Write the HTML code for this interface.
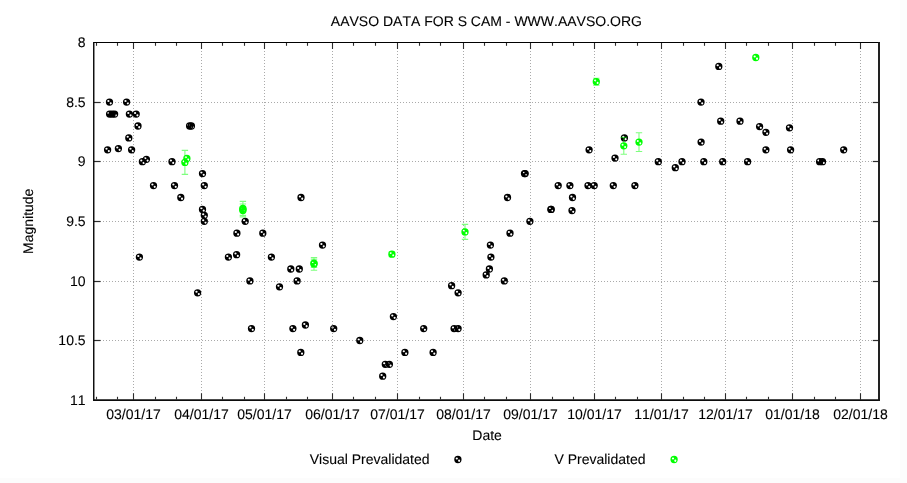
<!DOCTYPE html>
<html lang="en"><head><meta charset="utf-8"><title>AAVSO DATA FOR S CAM</title>
<style>html,body{margin:0;padding:0;background:#fcfcfc;overflow:hidden}svg{display:block}text{font-family:"Liberation Sans",Arial,Helvetica,sans-serif;font-size:14px;fill:#000;stroke:#000;stroke-width:.1px;font-kerning:none;text-rendering:geometricPrecision}</style></head><body>
<svg width="907" height="483" viewBox="0 0 907 483">
<defs>
<path id="b" fill="#000" fill-rule="evenodd" d="M-3.65 0.00a3.65 3.65 0 1 0 7.30 0a3.65 3.65 0 1 0 -7.30 0zM-2.22 -1.10a1.12 0.98 0 1 0 2.24 0a1.12 0.98 0 1 0 -2.24 0zM0.17 1.25a1.05 1.15 0 1 0 2.10 0a1.05 1.15 0 1 0 -2.10 0z"/>
<path id="g" fill="#00ff00" fill-rule="evenodd" d="M-3.65 0.00a3.65 3.65 0 1 0 7.30 0a3.65 3.65 0 1 0 -7.30 0zM-2.22 -1.10a1.12 0.98 0 1 0 2.24 0a1.12 0.98 0 1 0 -2.24 0zM0.17 1.25a1.05 1.15 0 1 0 2.10 0a1.05 1.15 0 1 0 -2.10 0z"/>
</defs>
<rect x="0" y="0" width="907" height="483" fill="#fcfcfc"/>
<rect x="0" y="0" width="900" height="478" fill="#fff"/>
<path stroke="#aaaaaa" stroke-width="1" fill="none" d="M133 42.5h1m-1 3h1m-1 3h1m-1 3h1m-1 3h1m-1 3h1m-1 3h1m-1 3h1m-1 3h1m-1 3h1m-1 3h1m-1 3h1m-1 3h1m-1 3h1m-1 3h1m-1 3h1m-1 3h1m-1 3h1m-1 3h1m-1 3h1m-1 3h1m-1 3h1m-1 3h1m-1 3h1m-1 3h1m-1 3h1m-1 3h1m-1 3h1m-1 3h1m-1 3h1m-1 3h1m-1 3h1m-1 3h1m-1 3h1m-1 3h1m-1 3h1m-1 3h1m-1 3h1m-1 3h1m-1 3h1m-1 3h1m-1 3h1m-1 3h1m-1 3h1m-1 3h1m-1 3h1m-1 3h1m-1 3h1m-1 3h1m-1 3h1m-1 3h1m-1 3h1m-1 3h1m-1 3h1m-1 3h1m-1 3h1m-1 3h1m-1 3h1m-1 3h1m-1 3h1m-1 3h1m-1 3h1m-1 3h1m-1 3h1m-1 3h1m-1 3h1m-1 3h1m-1 3h1m-1 3h1m-1 3h1m-1 3h1m-1 3h1m-1 3h1m-1 3h1m-1 3h1m-1 3h1m-1 3h1m-1 3h1m-1 3h1m-1 3h1m-1 3h1m-1 3h1m-1 3h1m-1 3h1m-1 3h1m-1 3h1m-1 3h1m-1 3h1m-1 3h1m-1 3h1m-1 3h1m-1 3h1m-1 3h1m-1 3h1m-1 3h1m-1 3h1m-1 3h1m-1 3h1m-1 3h1m-1 3h1m-1 3h1m-1 3h1m-1 3h1m-1 3h1m-1 3h1m-1 3h1m-1 3h1m-1 3h1m-1 3h1m-1 3h1m-1 3h1m-1 3h1m-1 3h1m-1 3h1m-1 3h1m-1 3h1m-1 3h1m-1 3h1m-1 3h1m-1 3h1M201 42.5h1m-1 3h1m-1 3h1m-1 3h1m-1 3h1m-1 3h1m-1 3h1m-1 3h1m-1 3h1m-1 3h1m-1 3h1m-1 3h1m-1 3h1m-1 3h1m-1 3h1m-1 3h1m-1 3h1m-1 3h1m-1 3h1m-1 3h1m-1 3h1m-1 3h1m-1 3h1m-1 3h1m-1 3h1m-1 3h1m-1 3h1m-1 3h1m-1 3h1m-1 3h1m-1 3h1m-1 3h1m-1 3h1m-1 3h1m-1 3h1m-1 3h1m-1 3h1m-1 3h1m-1 3h1m-1 3h1m-1 3h1m-1 3h1m-1 3h1m-1 3h1m-1 3h1m-1 3h1m-1 3h1m-1 3h1m-1 3h1m-1 3h1m-1 3h1m-1 3h1m-1 3h1m-1 3h1m-1 3h1m-1 3h1m-1 3h1m-1 3h1m-1 3h1m-1 3h1m-1 3h1m-1 3h1m-1 3h1m-1 3h1m-1 3h1m-1 3h1m-1 3h1m-1 3h1m-1 3h1m-1 3h1m-1 3h1m-1 3h1m-1 3h1m-1 3h1m-1 3h1m-1 3h1m-1 3h1m-1 3h1m-1 3h1m-1 3h1m-1 3h1m-1 3h1m-1 3h1m-1 3h1m-1 3h1m-1 3h1m-1 3h1m-1 3h1m-1 3h1m-1 3h1m-1 3h1m-1 3h1m-1 3h1m-1 3h1m-1 3h1m-1 3h1m-1 3h1m-1 3h1m-1 3h1m-1 3h1m-1 3h1m-1 3h1m-1 3h1m-1 3h1m-1 3h1m-1 3h1m-1 3h1m-1 3h1m-1 3h1m-1 3h1m-1 3h1m-1 3h1m-1 3h1m-1 3h1m-1 3h1m-1 3h1m-1 3h1m-1 3h1m-1 3h1m-1 3h1M264 42.5h1m-1 3h1m-1 3h1m-1 3h1m-1 3h1m-1 3h1m-1 3h1m-1 3h1m-1 3h1m-1 3h1m-1 3h1m-1 3h1m-1 3h1m-1 3h1m-1 3h1m-1 3h1m-1 3h1m-1 3h1m-1 3h1m-1 3h1m-1 3h1m-1 3h1m-1 3h1m-1 3h1m-1 3h1m-1 3h1m-1 3h1m-1 3h1m-1 3h1m-1 3h1m-1 3h1m-1 3h1m-1 3h1m-1 3h1m-1 3h1m-1 3h1m-1 3h1m-1 3h1m-1 3h1m-1 3h1m-1 3h1m-1 3h1m-1 3h1m-1 3h1m-1 3h1m-1 3h1m-1 3h1m-1 3h1m-1 3h1m-1 3h1m-1 3h1m-1 3h1m-1 3h1m-1 3h1m-1 3h1m-1 3h1m-1 3h1m-1 3h1m-1 3h1m-1 3h1m-1 3h1m-1 3h1m-1 3h1m-1 3h1m-1 3h1m-1 3h1m-1 3h1m-1 3h1m-1 3h1m-1 3h1m-1 3h1m-1 3h1m-1 3h1m-1 3h1m-1 3h1m-1 3h1m-1 3h1m-1 3h1m-1 3h1m-1 3h1m-1 3h1m-1 3h1m-1 3h1m-1 3h1m-1 3h1m-1 3h1m-1 3h1m-1 3h1m-1 3h1m-1 3h1m-1 3h1m-1 3h1m-1 3h1m-1 3h1m-1 3h1m-1 3h1m-1 3h1m-1 3h1m-1 3h1m-1 3h1m-1 3h1m-1 3h1m-1 3h1m-1 3h1m-1 3h1m-1 3h1m-1 3h1m-1 3h1m-1 3h1m-1 3h1m-1 3h1m-1 3h1m-1 3h1m-1 3h1m-1 3h1m-1 3h1m-1 3h1m-1 3h1m-1 3h1m-1 3h1M332 42.5h1m-1 3h1m-1 3h1m-1 3h1m-1 3h1m-1 3h1m-1 3h1m-1 3h1m-1 3h1m-1 3h1m-1 3h1m-1 3h1m-1 3h1m-1 3h1m-1 3h1m-1 3h1m-1 3h1m-1 3h1m-1 3h1m-1 3h1m-1 3h1m-1 3h1m-1 3h1m-1 3h1m-1 3h1m-1 3h1m-1 3h1m-1 3h1m-1 3h1m-1 3h1m-1 3h1m-1 3h1m-1 3h1m-1 3h1m-1 3h1m-1 3h1m-1 3h1m-1 3h1m-1 3h1m-1 3h1m-1 3h1m-1 3h1m-1 3h1m-1 3h1m-1 3h1m-1 3h1m-1 3h1m-1 3h1m-1 3h1m-1 3h1m-1 3h1m-1 3h1m-1 3h1m-1 3h1m-1 3h1m-1 3h1m-1 3h1m-1 3h1m-1 3h1m-1 3h1m-1 3h1m-1 3h1m-1 3h1m-1 3h1m-1 3h1m-1 3h1m-1 3h1m-1 3h1m-1 3h1m-1 3h1m-1 3h1m-1 3h1m-1 3h1m-1 3h1m-1 3h1m-1 3h1m-1 3h1m-1 3h1m-1 3h1m-1 3h1m-1 3h1m-1 3h1m-1 3h1m-1 3h1m-1 3h1m-1 3h1m-1 3h1m-1 3h1m-1 3h1m-1 3h1m-1 3h1m-1 3h1m-1 3h1m-1 3h1m-1 3h1m-1 3h1m-1 3h1m-1 3h1m-1 3h1m-1 3h1m-1 3h1m-1 3h1m-1 3h1m-1 3h1m-1 3h1m-1 3h1m-1 3h1m-1 3h1m-1 3h1m-1 3h1m-1 3h1m-1 3h1m-1 3h1m-1 3h1m-1 3h1m-1 3h1m-1 3h1m-1 3h1m-1 3h1m-1 3h1M397 42.5h1m-1 3h1m-1 3h1m-1 3h1m-1 3h1m-1 3h1m-1 3h1m-1 3h1m-1 3h1m-1 3h1m-1 3h1m-1 3h1m-1 3h1m-1 3h1m-1 3h1m-1 3h1m-1 3h1m-1 3h1m-1 3h1m-1 3h1m-1 3h1m-1 3h1m-1 3h1m-1 3h1m-1 3h1m-1 3h1m-1 3h1m-1 3h1m-1 3h1m-1 3h1m-1 3h1m-1 3h1m-1 3h1m-1 3h1m-1 3h1m-1 3h1m-1 3h1m-1 3h1m-1 3h1m-1 3h1m-1 3h1m-1 3h1m-1 3h1m-1 3h1m-1 3h1m-1 3h1m-1 3h1m-1 3h1m-1 3h1m-1 3h1m-1 3h1m-1 3h1m-1 3h1m-1 3h1m-1 3h1m-1 3h1m-1 3h1m-1 3h1m-1 3h1m-1 3h1m-1 3h1m-1 3h1m-1 3h1m-1 3h1m-1 3h1m-1 3h1m-1 3h1m-1 3h1m-1 3h1m-1 3h1m-1 3h1m-1 3h1m-1 3h1m-1 3h1m-1 3h1m-1 3h1m-1 3h1m-1 3h1m-1 3h1m-1 3h1m-1 3h1m-1 3h1m-1 3h1m-1 3h1m-1 3h1m-1 3h1m-1 3h1m-1 3h1m-1 3h1m-1 3h1m-1 3h1m-1 3h1m-1 3h1m-1 3h1m-1 3h1m-1 3h1m-1 3h1m-1 3h1m-1 3h1m-1 3h1m-1 3h1m-1 3h1m-1 3h1m-1 3h1m-1 3h1m-1 3h1m-1 3h1m-1 3h1m-1 3h1m-1 3h1m-1 3h1m-1 3h1m-1 3h1m-1 3h1m-1 3h1m-1 3h1m-1 3h1m-1 3h1m-1 3h1m-1 3h1M463 42.5h1m-1 3h1m-1 3h1m-1 3h1m-1 3h1m-1 3h1m-1 3h1m-1 3h1m-1 3h1m-1 3h1m-1 3h1m-1 3h1m-1 3h1m-1 3h1m-1 3h1m-1 3h1m-1 3h1m-1 3h1m-1 3h1m-1 3h1m-1 3h1m-1 3h1m-1 3h1m-1 3h1m-1 3h1m-1 3h1m-1 3h1m-1 3h1m-1 3h1m-1 3h1m-1 3h1m-1 3h1m-1 3h1m-1 3h1m-1 3h1m-1 3h1m-1 3h1m-1 3h1m-1 3h1m-1 3h1m-1 3h1m-1 3h1m-1 3h1m-1 3h1m-1 3h1m-1 3h1m-1 3h1m-1 3h1m-1 3h1m-1 3h1m-1 3h1m-1 3h1m-1 3h1m-1 3h1m-1 3h1m-1 3h1m-1 3h1m-1 3h1m-1 3h1m-1 3h1m-1 3h1m-1 3h1m-1 3h1m-1 3h1m-1 3h1m-1 3h1m-1 3h1m-1 3h1m-1 3h1m-1 3h1m-1 3h1m-1 3h1m-1 3h1m-1 3h1m-1 3h1m-1 3h1m-1 3h1m-1 3h1m-1 3h1m-1 3h1m-1 3h1m-1 3h1m-1 3h1m-1 3h1m-1 3h1m-1 3h1m-1 3h1m-1 3h1m-1 3h1m-1 3h1m-1 3h1m-1 3h1m-1 3h1m-1 3h1m-1 3h1m-1 3h1m-1 3h1m-1 3h1m-1 3h1m-1 3h1m-1 3h1m-1 3h1m-1 3h1m-1 3h1m-1 3h1m-1 3h1m-1 3h1m-1 3h1m-1 3h1m-1 3h1m-1 3h1m-1 3h1m-1 3h1m-1 3h1m-1 3h1m-1 3h1m-1 3h1m-1 3h1m-1 3h1m-1 3h1M530 42.5h1m-1 3h1m-1 3h1m-1 3h1m-1 3h1m-1 3h1m-1 3h1m-1 3h1m-1 3h1m-1 3h1m-1 3h1m-1 3h1m-1 3h1m-1 3h1m-1 3h1m-1 3h1m-1 3h1m-1 3h1m-1 3h1m-1 3h1m-1 3h1m-1 3h1m-1 3h1m-1 3h1m-1 3h1m-1 3h1m-1 3h1m-1 3h1m-1 3h1m-1 3h1m-1 3h1m-1 3h1m-1 3h1m-1 3h1m-1 3h1m-1 3h1m-1 3h1m-1 3h1m-1 3h1m-1 3h1m-1 3h1m-1 3h1m-1 3h1m-1 3h1m-1 3h1m-1 3h1m-1 3h1m-1 3h1m-1 3h1m-1 3h1m-1 3h1m-1 3h1m-1 3h1m-1 3h1m-1 3h1m-1 3h1m-1 3h1m-1 3h1m-1 3h1m-1 3h1m-1 3h1m-1 3h1m-1 3h1m-1 3h1m-1 3h1m-1 3h1m-1 3h1m-1 3h1m-1 3h1m-1 3h1m-1 3h1m-1 3h1m-1 3h1m-1 3h1m-1 3h1m-1 3h1m-1 3h1m-1 3h1m-1 3h1m-1 3h1m-1 3h1m-1 3h1m-1 3h1m-1 3h1m-1 3h1m-1 3h1m-1 3h1m-1 3h1m-1 3h1m-1 3h1m-1 3h1m-1 3h1m-1 3h1m-1 3h1m-1 3h1m-1 3h1m-1 3h1m-1 3h1m-1 3h1m-1 3h1m-1 3h1m-1 3h1m-1 3h1m-1 3h1m-1 3h1m-1 3h1m-1 3h1m-1 3h1m-1 3h1m-1 3h1m-1 3h1m-1 3h1m-1 3h1m-1 3h1m-1 3h1m-1 3h1m-1 3h1m-1 3h1m-1 3h1m-1 3h1M594 42.5h1m-1 3h1m-1 3h1m-1 3h1m-1 3h1m-1 3h1m-1 3h1m-1 3h1m-1 3h1m-1 3h1m-1 3h1m-1 3h1m-1 3h1m-1 3h1m-1 3h1m-1 3h1m-1 3h1m-1 3h1m-1 3h1m-1 3h1m-1 3h1m-1 3h1m-1 3h1m-1 3h1m-1 3h1m-1 3h1m-1 3h1m-1 3h1m-1 3h1m-1 3h1m-1 3h1m-1 3h1m-1 3h1m-1 3h1m-1 3h1m-1 3h1m-1 3h1m-1 3h1m-1 3h1m-1 3h1m-1 3h1m-1 3h1m-1 3h1m-1 3h1m-1 3h1m-1 3h1m-1 3h1m-1 3h1m-1 3h1m-1 3h1m-1 3h1m-1 3h1m-1 3h1m-1 3h1m-1 3h1m-1 3h1m-1 3h1m-1 3h1m-1 3h1m-1 3h1m-1 3h1m-1 3h1m-1 3h1m-1 3h1m-1 3h1m-1 3h1m-1 3h1m-1 3h1m-1 3h1m-1 3h1m-1 3h1m-1 3h1m-1 3h1m-1 3h1m-1 3h1m-1 3h1m-1 3h1m-1 3h1m-1 3h1m-1 3h1m-1 3h1m-1 3h1m-1 3h1m-1 3h1m-1 3h1m-1 3h1m-1 3h1m-1 3h1m-1 3h1m-1 3h1m-1 3h1m-1 3h1m-1 3h1m-1 3h1m-1 3h1m-1 3h1m-1 3h1m-1 3h1m-1 3h1m-1 3h1m-1 3h1m-1 3h1m-1 3h1m-1 3h1m-1 3h1m-1 3h1m-1 3h1m-1 3h1m-1 3h1m-1 3h1m-1 3h1m-1 3h1m-1 3h1m-1 3h1m-1 3h1m-1 3h1m-1 3h1m-1 3h1m-1 3h1m-1 3h1M661 42.5h1m-1 3h1m-1 3h1m-1 3h1m-1 3h1m-1 3h1m-1 3h1m-1 3h1m-1 3h1m-1 3h1m-1 3h1m-1 3h1m-1 3h1m-1 3h1m-1 3h1m-1 3h1m-1 3h1m-1 3h1m-1 3h1m-1 3h1m-1 3h1m-1 3h1m-1 3h1m-1 3h1m-1 3h1m-1 3h1m-1 3h1m-1 3h1m-1 3h1m-1 3h1m-1 3h1m-1 3h1m-1 3h1m-1 3h1m-1 3h1m-1 3h1m-1 3h1m-1 3h1m-1 3h1m-1 3h1m-1 3h1m-1 3h1m-1 3h1m-1 3h1m-1 3h1m-1 3h1m-1 3h1m-1 3h1m-1 3h1m-1 3h1m-1 3h1m-1 3h1m-1 3h1m-1 3h1m-1 3h1m-1 3h1m-1 3h1m-1 3h1m-1 3h1m-1 3h1m-1 3h1m-1 3h1m-1 3h1m-1 3h1m-1 3h1m-1 3h1m-1 3h1m-1 3h1m-1 3h1m-1 3h1m-1 3h1m-1 3h1m-1 3h1m-1 3h1m-1 3h1m-1 3h1m-1 3h1m-1 3h1m-1 3h1m-1 3h1m-1 3h1m-1 3h1m-1 3h1m-1 3h1m-1 3h1m-1 3h1m-1 3h1m-1 3h1m-1 3h1m-1 3h1m-1 3h1m-1 3h1m-1 3h1m-1 3h1m-1 3h1m-1 3h1m-1 3h1m-1 3h1m-1 3h1m-1 3h1m-1 3h1m-1 3h1m-1 3h1m-1 3h1m-1 3h1m-1 3h1m-1 3h1m-1 3h1m-1 3h1m-1 3h1m-1 3h1m-1 3h1m-1 3h1m-1 3h1m-1 3h1m-1 3h1m-1 3h1m-1 3h1m-1 3h1m-1 3h1M725 42.5h1m-1 3h1m-1 3h1m-1 3h1m-1 3h1m-1 3h1m-1 3h1m-1 3h1m-1 3h1m-1 3h1m-1 3h1m-1 3h1m-1 3h1m-1 3h1m-1 3h1m-1 3h1m-1 3h1m-1 3h1m-1 3h1m-1 3h1m-1 3h1m-1 3h1m-1 3h1m-1 3h1m-1 3h1m-1 3h1m-1 3h1m-1 3h1m-1 3h1m-1 3h1m-1 3h1m-1 3h1m-1 3h1m-1 3h1m-1 3h1m-1 3h1m-1 3h1m-1 3h1m-1 3h1m-1 3h1m-1 3h1m-1 3h1m-1 3h1m-1 3h1m-1 3h1m-1 3h1m-1 3h1m-1 3h1m-1 3h1m-1 3h1m-1 3h1m-1 3h1m-1 3h1m-1 3h1m-1 3h1m-1 3h1m-1 3h1m-1 3h1m-1 3h1m-1 3h1m-1 3h1m-1 3h1m-1 3h1m-1 3h1m-1 3h1m-1 3h1m-1 3h1m-1 3h1m-1 3h1m-1 3h1m-1 3h1m-1 3h1m-1 3h1m-1 3h1m-1 3h1m-1 3h1m-1 3h1m-1 3h1m-1 3h1m-1 3h1m-1 3h1m-1 3h1m-1 3h1m-1 3h1m-1 3h1m-1 3h1m-1 3h1m-1 3h1m-1 3h1m-1 3h1m-1 3h1m-1 3h1m-1 3h1m-1 3h1m-1 3h1m-1 3h1m-1 3h1m-1 3h1m-1 3h1m-1 3h1m-1 3h1m-1 3h1m-1 3h1m-1 3h1m-1 3h1m-1 3h1m-1 3h1m-1 3h1m-1 3h1m-1 3h1m-1 3h1m-1 3h1m-1 3h1m-1 3h1m-1 3h1m-1 3h1m-1 3h1m-1 3h1m-1 3h1m-1 3h1M792 42.5h1m-1 3h1m-1 3h1m-1 3h1m-1 3h1m-1 3h1m-1 3h1m-1 3h1m-1 3h1m-1 3h1m-1 3h1m-1 3h1m-1 3h1m-1 3h1m-1 3h1m-1 3h1m-1 3h1m-1 3h1m-1 3h1m-1 3h1m-1 3h1m-1 3h1m-1 3h1m-1 3h1m-1 3h1m-1 3h1m-1 3h1m-1 3h1m-1 3h1m-1 3h1m-1 3h1m-1 3h1m-1 3h1m-1 3h1m-1 3h1m-1 3h1m-1 3h1m-1 3h1m-1 3h1m-1 3h1m-1 3h1m-1 3h1m-1 3h1m-1 3h1m-1 3h1m-1 3h1m-1 3h1m-1 3h1m-1 3h1m-1 3h1m-1 3h1m-1 3h1m-1 3h1m-1 3h1m-1 3h1m-1 3h1m-1 3h1m-1 3h1m-1 3h1m-1 3h1m-1 3h1m-1 3h1m-1 3h1m-1 3h1m-1 3h1m-1 3h1m-1 3h1m-1 3h1m-1 3h1m-1 3h1m-1 3h1m-1 3h1m-1 3h1m-1 3h1m-1 3h1m-1 3h1m-1 3h1m-1 3h1m-1 3h1m-1 3h1m-1 3h1m-1 3h1m-1 3h1m-1 3h1m-1 3h1m-1 3h1m-1 3h1m-1 3h1m-1 3h1m-1 3h1m-1 3h1m-1 3h1m-1 3h1m-1 3h1m-1 3h1m-1 3h1m-1 3h1m-1 3h1m-1 3h1m-1 3h1m-1 3h1m-1 3h1m-1 3h1m-1 3h1m-1 3h1m-1 3h1m-1 3h1m-1 3h1m-1 3h1m-1 3h1m-1 3h1m-1 3h1m-1 3h1m-1 3h1m-1 3h1m-1 3h1m-1 3h1m-1 3h1m-1 3h1m-1 3h1M860 42.5h1m-1 3h1m-1 3h1m-1 3h1m-1 3h1m-1 3h1m-1 3h1m-1 3h1m-1 3h1m-1 3h1m-1 3h1m-1 3h1m-1 3h1m-1 3h1m-1 3h1m-1 3h1m-1 3h1m-1 3h1m-1 3h1m-1 3h1m-1 3h1m-1 3h1m-1 3h1m-1 3h1m-1 3h1m-1 3h1m-1 3h1m-1 3h1m-1 3h1m-1 3h1m-1 3h1m-1 3h1m-1 3h1m-1 3h1m-1 3h1m-1 3h1m-1 3h1m-1 3h1m-1 3h1m-1 3h1m-1 3h1m-1 3h1m-1 3h1m-1 3h1m-1 3h1m-1 3h1m-1 3h1m-1 3h1m-1 3h1m-1 3h1m-1 3h1m-1 3h1m-1 3h1m-1 3h1m-1 3h1m-1 3h1m-1 3h1m-1 3h1m-1 3h1m-1 3h1m-1 3h1m-1 3h1m-1 3h1m-1 3h1m-1 3h1m-1 3h1m-1 3h1m-1 3h1m-1 3h1m-1 3h1m-1 3h1m-1 3h1m-1 3h1m-1 3h1m-1 3h1m-1 3h1m-1 3h1m-1 3h1m-1 3h1m-1 3h1m-1 3h1m-1 3h1m-1 3h1m-1 3h1m-1 3h1m-1 3h1m-1 3h1m-1 3h1m-1 3h1m-1 3h1m-1 3h1m-1 3h1m-1 3h1m-1 3h1m-1 3h1m-1 3h1m-1 3h1m-1 3h1m-1 3h1m-1 3h1m-1 3h1m-1 3h1m-1 3h1m-1 3h1m-1 3h1m-1 3h1m-1 3h1m-1 3h1m-1 3h1m-1 3h1m-1 3h1m-1 3h1m-1 3h1m-1 3h1m-1 3h1m-1 3h1m-1 3h1m-1 3h1m-1 3h1m-1 3h1M94 102.5h1m2 0h1m2 0h1m2 0h1m2 0h1m2 0h1m2 0h1m2 0h1m2 0h1m2 0h1m2 0h1m2 0h1m2 0h1m2 0h1m2 0h1m2 0h1m2 0h1m2 0h1m2 0h1m2 0h1m2 0h1m2 0h1m2 0h1m2 0h1m2 0h1m2 0h1m2 0h1m2 0h1m2 0h1m2 0h1m2 0h1m2 0h1m2 0h1m2 0h1m2 0h1m2 0h1m2 0h1m2 0h1m2 0h1m2 0h1m2 0h1m2 0h1m2 0h1m2 0h1m2 0h1m2 0h1m2 0h1m2 0h1m2 0h1m2 0h1m2 0h1m2 0h1m2 0h1m2 0h1m2 0h1m2 0h1m2 0h1m2 0h1m2 0h1m2 0h1m2 0h1m2 0h1m2 0h1m2 0h1m2 0h1m2 0h1m2 0h1m2 0h1m2 0h1m2 0h1m2 0h1m2 0h1m2 0h1m2 0h1m2 0h1m2 0h1m2 0h1m2 0h1m2 0h1m2 0h1m2 0h1m2 0h1m2 0h1m2 0h1m2 0h1m2 0h1m2 0h1m2 0h1m2 0h1m2 0h1m2 0h1m2 0h1m2 0h1m2 0h1m2 0h1m2 0h1m2 0h1m2 0h1m2 0h1m2 0h1m2 0h1m2 0h1m2 0h1m2 0h1m2 0h1m2 0h1m2 0h1m2 0h1m2 0h1m2 0h1m2 0h1m2 0h1m2 0h1m2 0h1m2 0h1m2 0h1m2 0h1m2 0h1m2 0h1m2 0h1m2 0h1m2 0h1m2 0h1m2 0h1m2 0h1m2 0h1m2 0h1m2 0h1m2 0h1m2 0h1m2 0h1m2 0h1m2 0h1m2 0h1m2 0h1m2 0h1m2 0h1m2 0h1m2 0h1m2 0h1m2 0h1m2 0h1m2 0h1m2 0h1m2 0h1m2 0h1m2 0h1m2 0h1m2 0h1m2 0h1m2 0h1m2 0h1m2 0h1m2 0h1m2 0h1m2 0h1m2 0h1m2 0h1m2 0h1m2 0h1m2 0h1m2 0h1m2 0h1m2 0h1m2 0h1m2 0h1m2 0h1m2 0h1m2 0h1m2 0h1m2 0h1m2 0h1m2 0h1m2 0h1m2 0h1m2 0h1m2 0h1m2 0h1m2 0h1m2 0h1m2 0h1m2 0h1m2 0h1m2 0h1m2 0h1m2 0h1m2 0h1m2 0h1m2 0h1m2 0h1m2 0h1m2 0h1m2 0h1m2 0h1m2 0h1m2 0h1m2 0h1m2 0h1m2 0h1m2 0h1m2 0h1m2 0h1m2 0h1m2 0h1m2 0h1m2 0h1m2 0h1m2 0h1m2 0h1m2 0h1m2 0h1m2 0h1m2 0h1m2 0h1m2 0h1m2 0h1m2 0h1m2 0h1m2 0h1m2 0h1m2 0h1m2 0h1m2 0h1m2 0h1m2 0h1m2 0h1m2 0h1m2 0h1m2 0h1m2 0h1m2 0h1m2 0h1m2 0h1m2 0h1m2 0h1m2 0h1m2 0h1m2 0h1m2 0h1m2 0h1m2 0h1m2 0h1m2 0h1m2 0h1m2 0h1m2 0h1m2 0h1m2 0h1m2 0h1m2 0h1m2 0h1m2 0h1m2 0h1m2 0h1m2 0h1m2 0h1m2 0h1m2 0h1m2 0h1m2 0h1m2 0h1m2 0h1M94 161.5h1m2 0h1m2 0h1m2 0h1m2 0h1m2 0h1m2 0h1m2 0h1m2 0h1m2 0h1m2 0h1m2 0h1m2 0h1m2 0h1m2 0h1m2 0h1m2 0h1m2 0h1m2 0h1m2 0h1m2 0h1m2 0h1m2 0h1m2 0h1m2 0h1m2 0h1m2 0h1m2 0h1m2 0h1m2 0h1m2 0h1m2 0h1m2 0h1m2 0h1m2 0h1m2 0h1m2 0h1m2 0h1m2 0h1m2 0h1m2 0h1m2 0h1m2 0h1m2 0h1m2 0h1m2 0h1m2 0h1m2 0h1m2 0h1m2 0h1m2 0h1m2 0h1m2 0h1m2 0h1m2 0h1m2 0h1m2 0h1m2 0h1m2 0h1m2 0h1m2 0h1m2 0h1m2 0h1m2 0h1m2 0h1m2 0h1m2 0h1m2 0h1m2 0h1m2 0h1m2 0h1m2 0h1m2 0h1m2 0h1m2 0h1m2 0h1m2 0h1m2 0h1m2 0h1m2 0h1m2 0h1m2 0h1m2 0h1m2 0h1m2 0h1m2 0h1m2 0h1m2 0h1m2 0h1m2 0h1m2 0h1m2 0h1m2 0h1m2 0h1m2 0h1m2 0h1m2 0h1m2 0h1m2 0h1m2 0h1m2 0h1m2 0h1m2 0h1m2 0h1m2 0h1m2 0h1m2 0h1m2 0h1m2 0h1m2 0h1m2 0h1m2 0h1m2 0h1m2 0h1m2 0h1m2 0h1m2 0h1m2 0h1m2 0h1m2 0h1m2 0h1m2 0h1m2 0h1m2 0h1m2 0h1m2 0h1m2 0h1m2 0h1m2 0h1m2 0h1m2 0h1m2 0h1m2 0h1m2 0h1m2 0h1m2 0h1m2 0h1m2 0h1m2 0h1m2 0h1m2 0h1m2 0h1m2 0h1m2 0h1m2 0h1m2 0h1m2 0h1m2 0h1m2 0h1m2 0h1m2 0h1m2 0h1m2 0h1m2 0h1m2 0h1m2 0h1m2 0h1m2 0h1m2 0h1m2 0h1m2 0h1m2 0h1m2 0h1m2 0h1m2 0h1m2 0h1m2 0h1m2 0h1m2 0h1m2 0h1m2 0h1m2 0h1m2 0h1m2 0h1m2 0h1m2 0h1m2 0h1m2 0h1m2 0h1m2 0h1m2 0h1m2 0h1m2 0h1m2 0h1m2 0h1m2 0h1m2 0h1m2 0h1m2 0h1m2 0h1m2 0h1m2 0h1m2 0h1m2 0h1m2 0h1m2 0h1m2 0h1m2 0h1m2 0h1m2 0h1m2 0h1m2 0h1m2 0h1m2 0h1m2 0h1m2 0h1m2 0h1m2 0h1m2 0h1m2 0h1m2 0h1m2 0h1m2 0h1m2 0h1m2 0h1m2 0h1m2 0h1m2 0h1m2 0h1m2 0h1m2 0h1m2 0h1m2 0h1m2 0h1m2 0h1m2 0h1m2 0h1m2 0h1m2 0h1m2 0h1m2 0h1m2 0h1m2 0h1m2 0h1m2 0h1m2 0h1m2 0h1m2 0h1m2 0h1m2 0h1m2 0h1m2 0h1m2 0h1m2 0h1m2 0h1m2 0h1m2 0h1m2 0h1m2 0h1m2 0h1m2 0h1m2 0h1m2 0h1m2 0h1m2 0h1m2 0h1m2 0h1m2 0h1m2 0h1m2 0h1m2 0h1m2 0h1M94 221.5h1m2 0h1m2 0h1m2 0h1m2 0h1m2 0h1m2 0h1m2 0h1m2 0h1m2 0h1m2 0h1m2 0h1m2 0h1m2 0h1m2 0h1m2 0h1m2 0h1m2 0h1m2 0h1m2 0h1m2 0h1m2 0h1m2 0h1m2 0h1m2 0h1m2 0h1m2 0h1m2 0h1m2 0h1m2 0h1m2 0h1m2 0h1m2 0h1m2 0h1m2 0h1m2 0h1m2 0h1m2 0h1m2 0h1m2 0h1m2 0h1m2 0h1m2 0h1m2 0h1m2 0h1m2 0h1m2 0h1m2 0h1m2 0h1m2 0h1m2 0h1m2 0h1m2 0h1m2 0h1m2 0h1m2 0h1m2 0h1m2 0h1m2 0h1m2 0h1m2 0h1m2 0h1m2 0h1m2 0h1m2 0h1m2 0h1m2 0h1m2 0h1m2 0h1m2 0h1m2 0h1m2 0h1m2 0h1m2 0h1m2 0h1m2 0h1m2 0h1m2 0h1m2 0h1m2 0h1m2 0h1m2 0h1m2 0h1m2 0h1m2 0h1m2 0h1m2 0h1m2 0h1m2 0h1m2 0h1m2 0h1m2 0h1m2 0h1m2 0h1m2 0h1m2 0h1m2 0h1m2 0h1m2 0h1m2 0h1m2 0h1m2 0h1m2 0h1m2 0h1m2 0h1m2 0h1m2 0h1m2 0h1m2 0h1m2 0h1m2 0h1m2 0h1m2 0h1m2 0h1m2 0h1m2 0h1m2 0h1m2 0h1m2 0h1m2 0h1m2 0h1m2 0h1m2 0h1m2 0h1m2 0h1m2 0h1m2 0h1m2 0h1m2 0h1m2 0h1m2 0h1m2 0h1m2 0h1m2 0h1m2 0h1m2 0h1m2 0h1m2 0h1m2 0h1m2 0h1m2 0h1m2 0h1m2 0h1m2 0h1m2 0h1m2 0h1m2 0h1m2 0h1m2 0h1m2 0h1m2 0h1m2 0h1m2 0h1m2 0h1m2 0h1m2 0h1m2 0h1m2 0h1m2 0h1m2 0h1m2 0h1m2 0h1m2 0h1m2 0h1m2 0h1m2 0h1m2 0h1m2 0h1m2 0h1m2 0h1m2 0h1m2 0h1m2 0h1m2 0h1m2 0h1m2 0h1m2 0h1m2 0h1m2 0h1m2 0h1m2 0h1m2 0h1m2 0h1m2 0h1m2 0h1m2 0h1m2 0h1m2 0h1m2 0h1m2 0h1m2 0h1m2 0h1m2 0h1m2 0h1m2 0h1m2 0h1m2 0h1m2 0h1m2 0h1m2 0h1m2 0h1m2 0h1m2 0h1m2 0h1m2 0h1m2 0h1m2 0h1m2 0h1m2 0h1m2 0h1m2 0h1m2 0h1m2 0h1m2 0h1m2 0h1m2 0h1m2 0h1m2 0h1m2 0h1m2 0h1m2 0h1m2 0h1m2 0h1m2 0h1m2 0h1m2 0h1m2 0h1m2 0h1m2 0h1m2 0h1m2 0h1m2 0h1m2 0h1m2 0h1m2 0h1m2 0h1m2 0h1m2 0h1m2 0h1m2 0h1m2 0h1m2 0h1m2 0h1m2 0h1m2 0h1m2 0h1m2 0h1m2 0h1m2 0h1m2 0h1m2 0h1m2 0h1m2 0h1m2 0h1m2 0h1m2 0h1m2 0h1m2 0h1m2 0h1m2 0h1m2 0h1m2 0h1M94 281.5h1m2 0h1m2 0h1m2 0h1m2 0h1m2 0h1m2 0h1m2 0h1m2 0h1m2 0h1m2 0h1m2 0h1m2 0h1m2 0h1m2 0h1m2 0h1m2 0h1m2 0h1m2 0h1m2 0h1m2 0h1m2 0h1m2 0h1m2 0h1m2 0h1m2 0h1m2 0h1m2 0h1m2 0h1m2 0h1m2 0h1m2 0h1m2 0h1m2 0h1m2 0h1m2 0h1m2 0h1m2 0h1m2 0h1m2 0h1m2 0h1m2 0h1m2 0h1m2 0h1m2 0h1m2 0h1m2 0h1m2 0h1m2 0h1m2 0h1m2 0h1m2 0h1m2 0h1m2 0h1m2 0h1m2 0h1m2 0h1m2 0h1m2 0h1m2 0h1m2 0h1m2 0h1m2 0h1m2 0h1m2 0h1m2 0h1m2 0h1m2 0h1m2 0h1m2 0h1m2 0h1m2 0h1m2 0h1m2 0h1m2 0h1m2 0h1m2 0h1m2 0h1m2 0h1m2 0h1m2 0h1m2 0h1m2 0h1m2 0h1m2 0h1m2 0h1m2 0h1m2 0h1m2 0h1m2 0h1m2 0h1m2 0h1m2 0h1m2 0h1m2 0h1m2 0h1m2 0h1m2 0h1m2 0h1m2 0h1m2 0h1m2 0h1m2 0h1m2 0h1m2 0h1m2 0h1m2 0h1m2 0h1m2 0h1m2 0h1m2 0h1m2 0h1m2 0h1m2 0h1m2 0h1m2 0h1m2 0h1m2 0h1m2 0h1m2 0h1m2 0h1m2 0h1m2 0h1m2 0h1m2 0h1m2 0h1m2 0h1m2 0h1m2 0h1m2 0h1m2 0h1m2 0h1m2 0h1m2 0h1m2 0h1m2 0h1m2 0h1m2 0h1m2 0h1m2 0h1m2 0h1m2 0h1m2 0h1m2 0h1m2 0h1m2 0h1m2 0h1m2 0h1m2 0h1m2 0h1m2 0h1m2 0h1m2 0h1m2 0h1m2 0h1m2 0h1m2 0h1m2 0h1m2 0h1m2 0h1m2 0h1m2 0h1m2 0h1m2 0h1m2 0h1m2 0h1m2 0h1m2 0h1m2 0h1m2 0h1m2 0h1m2 0h1m2 0h1m2 0h1m2 0h1m2 0h1m2 0h1m2 0h1m2 0h1m2 0h1m2 0h1m2 0h1m2 0h1m2 0h1m2 0h1m2 0h1m2 0h1m2 0h1m2 0h1m2 0h1m2 0h1m2 0h1m2 0h1m2 0h1m2 0h1m2 0h1m2 0h1m2 0h1m2 0h1m2 0h1m2 0h1m2 0h1m2 0h1m2 0h1m2 0h1m2 0h1m2 0h1m2 0h1m2 0h1m2 0h1m2 0h1m2 0h1m2 0h1m2 0h1m2 0h1m2 0h1m2 0h1m2 0h1m2 0h1m2 0h1m2 0h1m2 0h1m2 0h1m2 0h1m2 0h1m2 0h1m2 0h1m2 0h1m2 0h1m2 0h1m2 0h1m2 0h1m2 0h1m2 0h1m2 0h1m2 0h1m2 0h1m2 0h1m2 0h1m2 0h1m2 0h1m2 0h1m2 0h1m2 0h1m2 0h1m2 0h1m2 0h1m2 0h1m2 0h1m2 0h1m2 0h1m2 0h1m2 0h1m2 0h1m2 0h1m2 0h1m2 0h1m2 0h1m2 0h1m2 0h1m2 0h1m2 0h1M94 340.5h1m2 0h1m2 0h1m2 0h1m2 0h1m2 0h1m2 0h1m2 0h1m2 0h1m2 0h1m2 0h1m2 0h1m2 0h1m2 0h1m2 0h1m2 0h1m2 0h1m2 0h1m2 0h1m2 0h1m2 0h1m2 0h1m2 0h1m2 0h1m2 0h1m2 0h1m2 0h1m2 0h1m2 0h1m2 0h1m2 0h1m2 0h1m2 0h1m2 0h1m2 0h1m2 0h1m2 0h1m2 0h1m2 0h1m2 0h1m2 0h1m2 0h1m2 0h1m2 0h1m2 0h1m2 0h1m2 0h1m2 0h1m2 0h1m2 0h1m2 0h1m2 0h1m2 0h1m2 0h1m2 0h1m2 0h1m2 0h1m2 0h1m2 0h1m2 0h1m2 0h1m2 0h1m2 0h1m2 0h1m2 0h1m2 0h1m2 0h1m2 0h1m2 0h1m2 0h1m2 0h1m2 0h1m2 0h1m2 0h1m2 0h1m2 0h1m2 0h1m2 0h1m2 0h1m2 0h1m2 0h1m2 0h1m2 0h1m2 0h1m2 0h1m2 0h1m2 0h1m2 0h1m2 0h1m2 0h1m2 0h1m2 0h1m2 0h1m2 0h1m2 0h1m2 0h1m2 0h1m2 0h1m2 0h1m2 0h1m2 0h1m2 0h1m2 0h1m2 0h1m2 0h1m2 0h1m2 0h1m2 0h1m2 0h1m2 0h1m2 0h1m2 0h1m2 0h1m2 0h1m2 0h1m2 0h1m2 0h1m2 0h1m2 0h1m2 0h1m2 0h1m2 0h1m2 0h1m2 0h1m2 0h1m2 0h1m2 0h1m2 0h1m2 0h1m2 0h1m2 0h1m2 0h1m2 0h1m2 0h1m2 0h1m2 0h1m2 0h1m2 0h1m2 0h1m2 0h1m2 0h1m2 0h1m2 0h1m2 0h1m2 0h1m2 0h1m2 0h1m2 0h1m2 0h1m2 0h1m2 0h1m2 0h1m2 0h1m2 0h1m2 0h1m2 0h1m2 0h1m2 0h1m2 0h1m2 0h1m2 0h1m2 0h1m2 0h1m2 0h1m2 0h1m2 0h1m2 0h1m2 0h1m2 0h1m2 0h1m2 0h1m2 0h1m2 0h1m2 0h1m2 0h1m2 0h1m2 0h1m2 0h1m2 0h1m2 0h1m2 0h1m2 0h1m2 0h1m2 0h1m2 0h1m2 0h1m2 0h1m2 0h1m2 0h1m2 0h1m2 0h1m2 0h1m2 0h1m2 0h1m2 0h1m2 0h1m2 0h1m2 0h1m2 0h1m2 0h1m2 0h1m2 0h1m2 0h1m2 0h1m2 0h1m2 0h1m2 0h1m2 0h1m2 0h1m2 0h1m2 0h1m2 0h1m2 0h1m2 0h1m2 0h1m2 0h1m2 0h1m2 0h1m2 0h1m2 0h1m2 0h1m2 0h1m2 0h1m2 0h1m2 0h1m2 0h1m2 0h1m2 0h1m2 0h1m2 0h1m2 0h1m2 0h1m2 0h1m2 0h1m2 0h1m2 0h1m2 0h1m2 0h1m2 0h1m2 0h1m2 0h1m2 0h1m2 0h1m2 0h1m2 0h1m2 0h1m2 0h1m2 0h1m2 0h1m2 0h1m2 0h1m2 0h1m2 0h1m2 0h1m2 0h1m2 0h1m2 0h1m2 0h1m2 0h1m2 0h1m2 0h1m2 0h1"/>
<g fill="#2c2c2c">
<rect x="132.95" y="393.3" width="1.1" height="6"/><rect x="132.95" y="43" width="1.1" height="6"/>
<rect x="200.95" y="393.3" width="1.1" height="6"/><rect x="200.95" y="43" width="1.1" height="6"/>
<rect x="263.95" y="393.3" width="1.1" height="6"/><rect x="263.95" y="43" width="1.1" height="6"/>
<rect x="331.95" y="393.3" width="1.1" height="6"/><rect x="331.95" y="43" width="1.1" height="6"/>
<rect x="396.95" y="393.3" width="1.1" height="6"/><rect x="396.95" y="43" width="1.1" height="6"/>
<rect x="462.95" y="393.3" width="1.1" height="6"/><rect x="462.95" y="43" width="1.1" height="6"/>
<rect x="529.95" y="393.3" width="1.1" height="6"/><rect x="529.95" y="43" width="1.1" height="6"/>
<rect x="593.95" y="393.3" width="1.1" height="6"/><rect x="593.95" y="43" width="1.1" height="6"/>
<rect x="660.95" y="393.3" width="1.1" height="6"/><rect x="660.95" y="43" width="1.1" height="6"/>
<rect x="724.95" y="393.3" width="1.1" height="6"/><rect x="724.95" y="43" width="1.1" height="6"/>
<rect x="791.95" y="393.3" width="1.1" height="6"/><rect x="791.95" y="43" width="1.1" height="6"/>
<rect x="859.95" y="393.3" width="1.1" height="6"/><rect x="859.95" y="43" width="1.1" height="6"/>
<rect x="95.95" y="396.8" width="1.1" height="2.5"/><rect x="95.95" y="43" width="1.1" height="2.8"/>
<rect x="116.95" y="396.8" width="1.1" height="2.5"/><rect x="116.95" y="43" width="1.1" height="2.8"/>
<rect x="154.95" y="396.8" width="1.1" height="2.5"/><rect x="154.95" y="43" width="1.1" height="2.8"/>
<rect x="175.95" y="396.8" width="1.1" height="2.5"/><rect x="175.95" y="43" width="1.1" height="2.8"/>
<rect x="221.95" y="396.8" width="1.1" height="2.5"/><rect x="221.95" y="43" width="1.1" height="2.8"/>
<rect x="243.95" y="396.8" width="1.1" height="2.5"/><rect x="243.95" y="43" width="1.1" height="2.8"/>
<rect x="285.95" y="396.8" width="1.1" height="2.5"/><rect x="285.95" y="43" width="1.1" height="2.8"/>
<rect x="306.95" y="396.8" width="1.1" height="2.5"/><rect x="306.95" y="43" width="1.1" height="2.8"/>
<rect x="352.95" y="396.8" width="1.1" height="2.5"/><rect x="352.95" y="43" width="1.1" height="2.8"/>
<rect x="374.95" y="396.8" width="1.1" height="2.5"/><rect x="374.95" y="43" width="1.1" height="2.8"/>
<rect x="418.95" y="396.8" width="1.1" height="2.5"/><rect x="418.95" y="43" width="1.1" height="2.8"/>
<rect x="439.95" y="396.8" width="1.1" height="2.5"/><rect x="439.95" y="43" width="1.1" height="2.8"/>
<rect x="483.95" y="396.8" width="1.1" height="2.5"/><rect x="483.95" y="43" width="1.1" height="2.8"/>
<rect x="505.95" y="396.8" width="1.1" height="2.5"/><rect x="505.95" y="43" width="1.1" height="2.8"/>
<rect x="551.95" y="396.8" width="1.1" height="2.5"/><rect x="551.95" y="43" width="1.1" height="2.8"/>
<rect x="572.95" y="396.8" width="1.1" height="2.5"/><rect x="572.95" y="43" width="1.1" height="2.8"/>
<rect x="614.95" y="396.8" width="1.1" height="2.5"/><rect x="614.95" y="43" width="1.1" height="2.8"/>
<rect x="636.95" y="396.8" width="1.1" height="2.5"/><rect x="636.95" y="43" width="1.1" height="2.8"/>
<rect x="682.95" y="396.8" width="1.1" height="2.5"/><rect x="682.95" y="43" width="1.1" height="2.8"/>
<rect x="703.95" y="396.8" width="1.1" height="2.5"/><rect x="703.95" y="43" width="1.1" height="2.8"/>
<rect x="745.95" y="396.8" width="1.1" height="2.5"/><rect x="745.95" y="43" width="1.1" height="2.8"/>
<rect x="767.95" y="396.8" width="1.1" height="2.5"/><rect x="767.95" y="43" width="1.1" height="2.8"/>
<rect x="813.95" y="396.8" width="1.1" height="2.5"/><rect x="813.95" y="43" width="1.1" height="2.8"/>
<rect x="834.95" y="396.8" width="1.1" height="2.5"/><rect x="834.95" y="43" width="1.1" height="2.8"/>
<rect x="94" y="101.90" width="6.5" height="1.2"/><rect x="872.8" y="101.90" width="5.4" height="1.2"/>
<rect x="94" y="160.90" width="6.5" height="1.2"/><rect x="872.8" y="160.90" width="5.4" height="1.2"/>
<rect x="94" y="220.90" width="6.5" height="1.2"/><rect x="872.8" y="220.90" width="5.4" height="1.2"/>
<rect x="94" y="280.90" width="6.5" height="1.2"/><rect x="872.8" y="280.90" width="5.4" height="1.2"/>
<rect x="94" y="339.90" width="6.5" height="1.2"/><rect x="872.8" y="339.90" width="5.4" height="1.2"/>
</g>
<rect x="93" y="42" width="787" height="1" fill="#000"/>
<rect x="93" y="399.3" width="787" height="1.65" fill="#000"/>
<rect x="93" y="42" width="1" height="359" fill="#101010"/><rect x="94" y="42" width="1" height="358" fill="#000" opacity=".45"/>
<rect x="878.05" y="42" width="1.9" height="359" fill="#181818"/>
<g>
<use href="#b" x="109.5" y="102.1"/>
<use href="#b" x="126.6" y="102.1"/>
<use href="#b" x="109.6" y="114.1"/>
<use href="#b" x="112.1" y="114.1"/>
<use href="#b" x="114.6" y="114.1"/>
<use href="#b" x="129.4" y="114.1"/>
<use href="#b" x="136.2" y="114.1"/>
<use href="#b" x="138.0" y="126.0"/>
<use href="#b" x="189.6" y="126.0"/>
<use href="#b" x="191.4" y="126.0"/>
<use href="#b" x="128.8" y="137.9"/>
<use href="#b" x="107.6" y="149.8"/>
<use href="#b" x="118.4" y="148.6"/>
<use href="#b" x="131.6" y="149.8"/>
<use href="#b" x="142.4" y="161.7"/>
<use href="#b" x="146.4" y="159.3"/>
<use href="#b" x="172.0" y="161.7"/>
<use href="#b" x="202.5" y="173.6"/>
<use href="#b" x="153.5" y="185.6"/>
<use href="#b" x="174.5" y="185.6"/>
<use href="#b" x="204.3" y="185.6"/>
<use href="#b" x="180.8" y="197.5"/>
<use href="#b" x="202.5" y="209.4"/>
<use href="#b" x="204.3" y="215.3"/>
<use href="#b" x="204.3" y="221.3"/>
<use href="#b" x="245.2" y="221.3"/>
<use href="#b" x="236.9" y="233.2"/>
<use href="#b" x="139.4" y="257.1"/>
<use href="#b" x="228.4" y="257.1"/>
<use href="#b" x="236.6" y="254.7"/>
<use href="#b" x="197.6" y="292.8"/>
<use href="#b" x="301.0" y="197.5"/>
<use href="#b" x="262.8" y="233.2"/>
<use href="#b" x="322.5" y="245.1"/>
<use href="#b" x="271.4" y="257.1"/>
<use href="#b" x="290.8" y="269.0"/>
<use href="#b" x="299.3" y="269.0"/>
<use href="#b" x="249.9" y="280.9"/>
<use href="#b" x="297.1" y="280.9"/>
<use href="#b" x="279.5" y="286.8"/>
<use href="#b" x="393.4" y="316.6"/>
<use href="#b" x="251.5" y="328.6"/>
<use href="#b" x="292.9" y="328.6"/>
<use href="#b" x="333.7" y="328.6"/>
<use href="#b" x="305.4" y="325.0"/>
<use href="#b" x="359.8" y="340.5"/>
<use href="#b" x="300.8" y="352.4"/>
<use href="#b" x="385.3" y="364.3"/>
<use href="#b" x="389.4" y="364.3"/>
<use href="#b" x="382.7" y="376.2"/>
<use href="#b" x="423.7" y="328.6"/>
<use href="#b" x="454.1" y="328.6"/>
<use href="#b" x="458.1" y="328.6"/>
<use href="#b" x="404.9" y="352.4"/>
<use href="#b" x="433.1" y="352.4"/>
<use href="#b" x="490.4" y="245.1"/>
<use href="#b" x="490.9" y="257.1"/>
<use href="#b" x="489.4" y="269.0"/>
<use href="#b" x="486.2" y="274.9"/>
<use href="#b" x="504.3" y="280.9"/>
<use href="#b" x="451.6" y="285.7"/>
<use href="#b" x="458.1" y="292.8"/>
<use href="#b" x="524.5" y="173.6"/>
<use href="#b" x="525.2" y="173.6"/>
<use href="#b" x="507.5" y="197.5"/>
<use href="#b" x="550.9" y="209.4"/>
<use href="#b" x="529.9" y="221.3"/>
<use href="#b" x="510.0" y="233.2"/>
<use href="#b" x="624.4" y="137.9"/>
<use href="#b" x="701.1" y="142.1"/>
<use href="#b" x="589.1" y="149.8"/>
<use href="#b" x="615.0" y="158.1"/>
<use href="#b" x="658.3" y="161.7"/>
<use href="#b" x="682.0" y="161.7"/>
<use href="#b" x="703.8" y="161.7"/>
<use href="#b" x="675.3" y="167.7"/>
<use href="#b" x="558.2" y="185.6"/>
<use href="#b" x="569.9" y="185.6"/>
<use href="#b" x="588.0" y="185.6"/>
<use href="#b" x="594.2" y="185.6"/>
<use href="#b" x="613.3" y="185.6"/>
<use href="#b" x="634.9" y="185.6"/>
<use href="#b" x="572.5" y="197.5"/>
<use href="#b" x="551.2" y="209.4"/>
<use href="#b" x="572.0" y="210.6"/>
<use href="#b" x="701.0" y="102.1"/>
<use href="#b" x="718.8" y="66.4"/>
<use href="#b" x="720.7" y="121.2"/>
<use href="#b" x="740.0" y="121.2"/>
<use href="#b" x="759.6" y="126.6"/>
<use href="#b" x="789.5" y="127.8"/>
<use href="#b" x="765.9" y="132.3"/>
<use href="#b" x="765.9" y="149.8"/>
<use href="#b" x="790.6" y="149.8"/>
<use href="#b" x="843.7" y="149.8"/>
<use href="#b" x="722.7" y="161.7"/>
<use href="#b" x="747.6" y="161.7"/>
<use href="#b" x="819.6" y="161.7"/>
<use href="#b" x="822.5" y="161.7"/>
</g>
<g stroke="#00ff00" stroke-width="1.1" fill="none" opacity=".5">
<path d="M184.9 150.4V174.4M181.7 150.4H188.1M181.7 174.4H188.1"/>
<path d="M242.9 201.4V215.4M239.7 201.4H246.1M239.7 215.4H246.1"/>
<path d="M242.9 204.0V216.9M239.7 204.0H246.1M239.7 216.9H246.1"/>
<path d="M314.0 257.5V270.3M310.8 257.5H317.2M310.8 270.3H317.2"/>
<path d="M314.0 259.1V267.4M310.8 259.1H317.2M310.8 267.4H317.2"/>
<path d="M391.9 251.9V256.6M388.7 251.9H395.1M388.7 256.6H395.1"/>
<path d="M465.0 224.4V239.4M461.8 224.4H468.2M461.8 239.4H468.2"/>
<path d="M596.3 78.2V85.3M593.1 78.2H599.5M593.1 85.3H599.5"/>
<path d="M623.8 137.4V154.3M620.6 137.4H627.0M620.6 154.3H627.0"/>
<path d="M639.0 132.7V151.5M635.8 132.7H642.2M635.8 151.5H642.2"/>
</g><g>
<use href="#g" x="184.9" y="162.4"/>
<use href="#g" x="186.9" y="158.4"/>
<use href="#g" x="242.9" y="208.4"/>
<use href="#g" x="242.9" y="209.4"/>
<use href="#g" x="242.9" y="210.4"/>
<use href="#g" x="314.0" y="263.9"/>
<use href="#g" x="314.0" y="263.2"/>
<use href="#g" x="391.9" y="254.2"/>
<use href="#g" x="465.0" y="231.9"/>
<use href="#g" x="596.3" y="81.7"/>
<use href="#g" x="623.8" y="145.8"/>
<use href="#g" x="639.0" y="142.1"/>
<use href="#g" x="755.8" y="57.5"/>
</g>
<use href="#b" x="457.9" y="459.5"/><use href="#g" x="674.1" y="459.5"/>
<text x="486.4" y="25.6" text-anchor="middle">AAVSO DATA FOR S CAM - WWW.AAVSO.ORG</text>
<text x="85.6" y="47.4" text-anchor="end">8</text>
<text x="85.6" y="107.4" text-anchor="end">8.5</text>
<text x="85.6" y="166.4" text-anchor="end">9</text>
<text x="85.6" y="226.4" text-anchor="end">9.5</text>
<text x="85.6" y="286.4" text-anchor="end">10</text>
<text x="85.6" y="345.4" text-anchor="end">10.5</text>
<text x="85.6" y="404.9" text-anchor="end">11</text>
<text x="133.5" y="419.4" text-anchor="middle">03/01/17</text>
<text x="201.5" y="419.4" text-anchor="middle">04/01/17</text>
<text x="264.5" y="419.4" text-anchor="middle">05/01/17</text>
<text x="332.5" y="419.4" text-anchor="middle">06/01/17</text>
<text x="397.5" y="419.4" text-anchor="middle">07/01/17</text>
<text x="463.5" y="419.4" text-anchor="middle">08/01/17</text>
<text x="530.5" y="419.4" text-anchor="middle">09/01/17</text>
<text x="594.5" y="419.4" text-anchor="middle">10/01/17</text>
<text x="661.5" y="419.4" text-anchor="middle">11/01/17</text>
<text x="725.5" y="419.4" text-anchor="middle">12/01/17</text>
<text x="792.5" y="419.4" text-anchor="middle">01/01/18</text>
<text x="860.5" y="419.4" text-anchor="middle">02/01/18</text>
<text x="487.1" y="440.1" text-anchor="middle">Date</text>
<text transform="translate(33.2 221.3) rotate(-90)" text-anchor="middle">Magnitude</text>
<text x="429.6" y="464.4" text-anchor="end">Visual Prevalidated</text>
<text x="645.5" y="464.4" text-anchor="end">V Prevalidated</text>
</svg></body></html>
